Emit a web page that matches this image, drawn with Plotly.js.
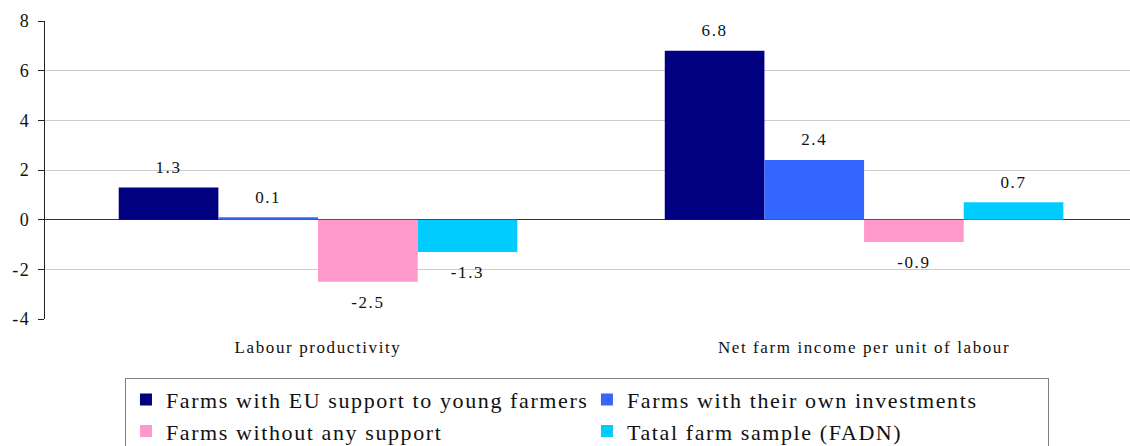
<!DOCTYPE html>
<html>
<head>
<meta charset="utf-8">
<script src="https://cdn.plot.ly/plotly-3.0.1.min.js"></script>
<style>
  html, body { margin: 0; padding: 0; background: #fff; }
  #chart { width: 1130px; height: 446px; }
  .main-svg text { letter-spacing: 1.6px; }
</style>
</head>
<body>
<div id="chart"></div>
<script>
const categories = ["Labour productivity", "Net farm income per unit of labour"];
const seriesNames = [
  "Farms with EU support to young farmers",
  "Farms with their own investments",
  "Farms without any support",
  "Tatal farm sample (FADN)"
];
const youngFarmers = [1.3, 6.8];
const ownInvestments = [0.1, 2.4];
const withoutSupport = [-2.5, -0.9];
const totalSample = [-1.3, 0.7];
const seriesColors = ["#000080", "#3366FF", "#FF99CC", "#00CCFF"];
const yTicks = [-4, -2, 0, 2, 4, 6, 8];

const seriesValues = [youngFarmers, ownInvestments, withoutSupport, totalSample];
const FONT = "'Liberation Serif', 'Times New Roman', serif";

const traces = [];
seriesValues.forEach((vals, i) => {
  traces.push({
    type: "bar",
    name: seriesNames[i],
    x: categories,
    y: vals,
    marker: { color: seriesColors[i], line: { width: 0 } },
    offsetgroup: "g" + i,
    hoverinfo: "skip"
  });
});
seriesValues.forEach((vals, i) => {
  traces.push({
    type: "scatter",
    mode: "markers+text",
    x: categories,
    y: vals,
    text: vals.map(v => v.toFixed(1)),
    textposition: vals.map(v => v >= 0 ? "top center" : "bottom center"),
    textfont: { family: FONT, size: 17, color: "#111111" },
    marker: { size: vals.map(v => v >= 0 ? 15 : 20), opacity: 0 },
    offsetgroup: "g" + i,
    showlegend: false,
    hoverinfo: "skip",
    cliponaxis: false
  });
});

const layout = {
  width: 1130,
  height: 446,
  margin: { l: 45, r: 0, t: 21, b: 127, autoexpand: false },
  paper_bgcolor: "#ffffff",
  plot_bgcolor: "#ffffff",
  barmode: "group",
  bargap: 0.27,
  bargroupgap: 0,
  scattermode: "group",
  scattergap: 0.27,
  font: { family: FONT, size: 17, color: "#111111" },
  xaxis: {
    type: "category",
    range: [-0.5, 1.487],
    showgrid: false,
    showline: false,
    zeroline: false,
    ticks: "",
    ticklabelstandoff: 16,
    tickfont: { family: FONT, size: 17, color: "#111111" }
  },
  yaxis: {
    range: [-4, 8],
    tickvals: yTicks,
    ticktext: yTicks.map(String),
    showgrid: true,
    gridcolor: "#cccccc",
    gridwidth: 1,
    zeroline: true,
    zerolinecolor: "#333333",
    zerolinewidth: 1,
    showline: true,
    linecolor: "#222222",
    linewidth: 1,
    ticks: "outside",
    ticklen: 6,
    tickcolor: "#222222",
    ticklabelstandoff: 4,
    tickfont: { family: FONT, size: 18, color: "#111111" }
  },
  showlegend: true,
  legend: {
    orientation: "h",
    x: 0.0737,
    xanchor: "left",
    y: -0.197,
    yanchor: "top",
    bgcolor: "#ffffff",
    bordercolor: "#808080",
    borderwidth: 1,
    font: { family: FONT, size: 22, color: "#111111" },
    itemwidth: 30,
    entrywidth: 416,
    traceorder: "normal"
  }
};

Plotly.newPlot("chart", traces, layout, { displayModeBar: false, staticPlot: true });
</script>
</body>
</html>
